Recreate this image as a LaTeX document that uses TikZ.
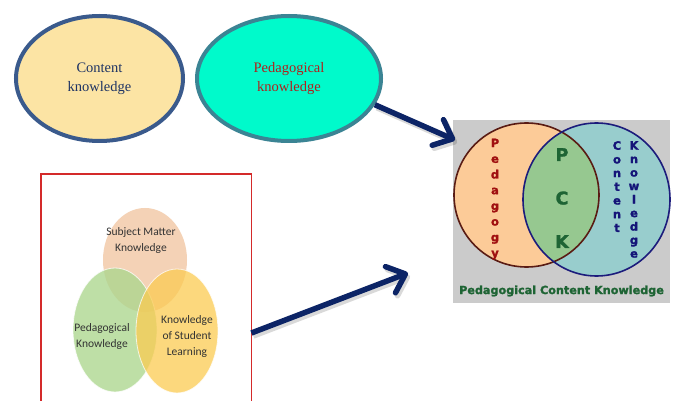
\documentclass[tikz,border=0pt]{standalone}
\usepackage{fontspec}
\setmainfont{Liberation Serif}
\newfontfamily\calib{Carlito}
\newfontfamily\dvsb{DejaVu Sans Bold}[FakeBold=1.6]
\usetikzlibrary{shapes.geometric,arrows.meta}

\definecolor{ckfill}{HTML}{FCE4A4}
\definecolor{ckedge}{HTML}{3A5A8C}
\definecolor{cktext}{HTML}{1F3464}
\definecolor{pkfill}{HTML}{00FACB}
\definecolor{pkedge}{HTML}{3B8494}
\definecolor{pktext}{HTML}{B0201C}
\definecolor{navyarrow}{HTML}{0C2466}
\definecolor{boxred}{HTML}{D42A2A}
\definecolor{smkfill}{HTML}{F4D2B6}
\definecolor{pedfill}{HTML}{ACD68E}
\definecolor{kslfill}{HTML}{FBCB52}
\definecolor{venntext}{HTML}{333333}
\definecolor{pckgray}{HTML}{CBCBCB}
\definecolor{pedpeach}{HTML}{FCCB98}
\definecolor{pededge}{HTML}{5A1C14}
\definecolor{conteal}{HTML}{98CDCD}
\definecolor{conedge}{HTML}{1C1C7C}
\definecolor{overlapgreen}{HTML}{96C890}
\definecolor{pedred}{HTML}{A01010}
\definecolor{pckgreen}{HTML}{1E6434}
\definecolor{connavy}{HTML}{141478}

\tikzset{
  bigoval/.style={ellipse, line width=4pt, inner sep=0pt,
    font=\fontsize{14.5}{19}\selectfont, align=center},
  bigarrow/.style={line width=5.5pt, draw=navyarrow,
    -{Straight Barb[length=16pt,width=28pt,round]}},
  arrowshade/.style={line width=5.5pt, draw=black, opacity=0.15,
    -{Straight Barb[length=16pt,width=28pt,round]}},
  vennlabel/.style={font=\calib\fontsize{11.5}{16}\selectfont,
    text=venntext, align=center},
  vertword/.style={font=\dvsb\fontsize{11.5}{#1}\selectfont,
    align=center, anchor=north, inner sep=0pt},
}

\begin{document}
\begin{tikzpicture}[x=1pt,y=-1pt]
\useasboundingbox[fill=white] (0,0) rectangle (678,401);

% --- the two knowledge ovals -------------------------------------------
\node[bigoval, draw=ckedge, fill=ckfill, text=cktext,
      minimum width=167pt, minimum height=125pt]
  (ck) at (99.5,78.5) {Content\\knowledge};
\node[bigoval, draw=pkedge, fill=pkfill, text=pktext,
      minimum width=184pt, minimum height=125pt]
  (pk) at (289,78.5) {Pedagogical\\knowledge};

% --- framed three-set diagram -------------------------------------------
\node[inner sep=0pt, minimum width=210pt, minimum height=240pt,
      anchor=north west, fill=white] (frame) at (41,174) {};
\fill[smkfill] (145,260) ellipse [x radius=42, y radius=52];
\fill[pedfill, opacity=0.78, draw=white, line width=0.8pt]
  (115,330) ellipse [x radius=42, y radius=62];
\fill[kslfill, opacity=0.75, draw=white, line width=0.8pt]
  (177,331) ellipse [x radius=41, y radius=62];
\draw[boxred, line width=1.3pt]
  (frame.south west) -- (frame.north west) -- (frame.north east) -- (frame.south east);
\node[vennlabel] (smk) at (141,240) {Subject Matter\\Knowledge};
\node[vennlabel] (ped) at (102,336) {Pedagogical\\Knowledge};
\node[vennlabel] (ksl) at (187,336) {Knowledge\\of Student\\Learning};

% --- PCK picture ----------------------------------------------------------
\node[fill=pckgray, inner sep=0pt, minimum width=217pt, minimum height=183pt,
      anchor=north west] (pck) at (453,120) {};
\fill[pedpeach] (526.5,195) ellipse [x radius=72.5, y radius=72];
\fill[conteal] (596.5,199.5) ellipse [x radius=73.5, y radius=76.5];
\begin{scope}
  \clip (526.5,195) ellipse [x radius=72.5, y radius=72];
  \fill[overlapgreen] (596.5,199.5) ellipse [x radius=73.5, y radius=76.5];
\end{scope}
\draw[pededge, line width=1.6pt] (526.5,195) ellipse [x radius=72.5, y radius=72];
\draw[conedge, line width=1.6pt] (596.5,199.5) ellipse [x radius=73.5, y radius=76.5];

\node[vertword=15.7, text=pedred] (pedw) at (495,138.5) {P\\e\\d\\a\\g\\o\\g\\y};
\node[vertword=13.7, text=connavy] (conw) at (617,141) {C\\o\\n\\t\\e\\n\\t};
\node[vertword=13.5, text=connavy] (knw) at (634,141) {K\\n\\o\\w\\l\\e\\d\\g\\e};
\node[font=\dvsb\fontsize{17.5}{43.5}\selectfont, text=pckgreen,
      align=center, anchor=north, inner sep=0pt] (pckw) at (562,148) {P\\C\\K};
\node[font=\dvsb\fontsize{11.2}{12}\selectfont, text=pckgreen,
      inner sep=0pt] (pcklabel) at (561.5,291) {Pedagogical Content Knowledge};

% --- connectors -------------------------------------------------------------
\coordinate (tipA) at (455,140);
\coordinate (tipB) at (408,273);
\coordinate (startB) at (frame.east |- 0,333);
\draw[arrowshade] ([shift={(2,3)}]pk.-17) -- ([shift={(2,3)}]tipA);
\draw[bigarrow] (pk.-17) -- (tipA);
\draw[arrowshade] ([shift={(2,3)}]startB) -- ([shift={(2,3)}]tipB);
\draw[bigarrow] (startB) -- (tipB);
\end{tikzpicture}
\end{document}
